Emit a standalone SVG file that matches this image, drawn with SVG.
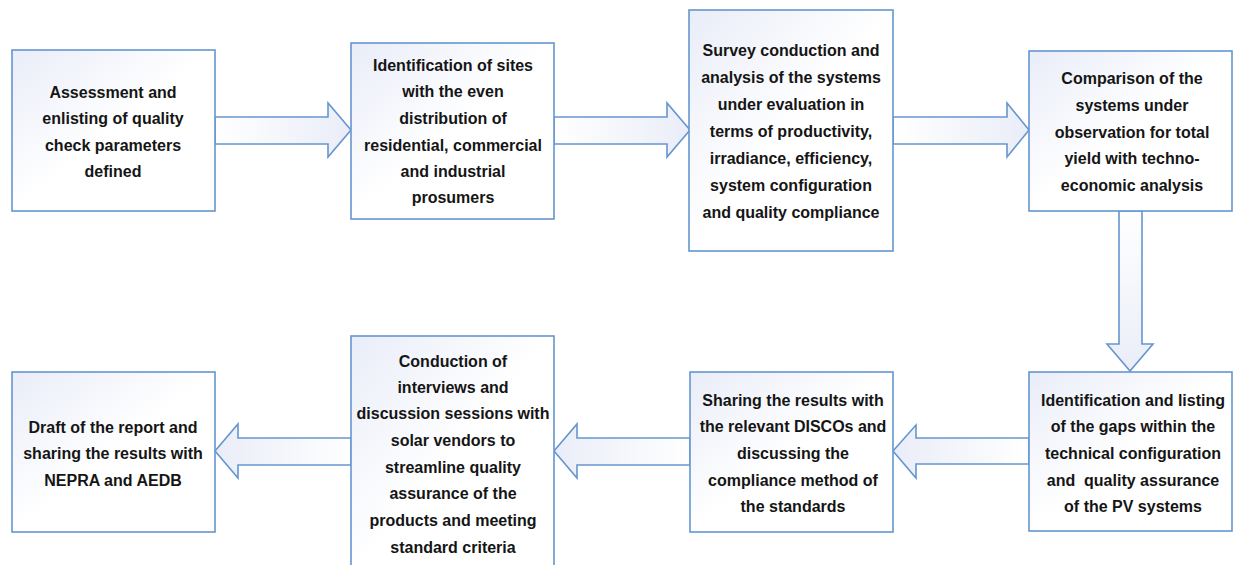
<svg xmlns="http://www.w3.org/2000/svg" width="1235" height="565" viewBox="0 0 1235 565">
  <style>
    .box { fill: url(#boxFill); stroke: #6596cf; stroke-width: 1.6; }
    .arrow { stroke: #6596cf; stroke-width: 1.6; stroke-linejoin: miter; }
    .label { font-family: "Liberation Sans", Arial, sans-serif; font-weight: bold; font-size: 16px; fill: #151515; text-anchor: middle; }
  </style>
  <defs>
    <linearGradient id="boxFill" x1="0" y1="0" x2="1" y2="1">
      <stop offset="0" stop-color="#e9edf8"/>
      <stop offset="0.5" stop-color="#ffffff"/>
      <stop offset="1" stop-color="#ffffff"/>
    </linearGradient>
    <linearGradient id="arrowRight" x1="0" y1="0" x2="1" y2="0">
      <stop offset="0" stop-color="#ffffff"/>
      <stop offset="1" stop-color="#eaedf8"/>
    </linearGradient>
    <linearGradient id="arrowLeft" x1="1" y1="0" x2="0" y2="0">
      <stop offset="0" stop-color="#ffffff"/>
      <stop offset="1" stop-color="#eaedf8"/>
    </linearGradient>
    <linearGradient id="arrowDown" x1="0" y1="0" x2="0" y2="1">
      <stop offset="0" stop-color="#ffffff"/>
      <stop offset="1" stop-color="#eaedf8"/>
    </linearGradient>
  </defs>

  <!-- block arrows between the steps -->
  <g id="connectors">
    <polygon class="arrow" fill="url(#arrowRight)" points="215,117 328,117 328,103 351,130 328,157 328,144 215,144"/>
    <polygon class="arrow" fill="url(#arrowRight)" points="554,117 667,117 667,103 690,130 667,157 667,144 554,144"/>
    <polygon class="arrow" fill="url(#arrowRight)" points="893,117 1007,117 1007,103 1029,130 1007,157 1007,144 893,144"/>
    <polygon class="arrow" fill="url(#arrowDown)" points="1119,211 1119,344 1107,344 1130,371 1153,344 1142,344 1142,211"/>
    <polygon class="arrow" fill="url(#arrowLeft)" points="1029,438 916,438 916,425 893,451 916,478 916,464 1029,464"/>
    <polygon class="arrow" fill="url(#arrowLeft)" points="690,438 577,438 577,424 554,451 577,478 577,465 690,465"/>
    <polygon class="arrow" fill="url(#arrowLeft)" points="351,438 238,438 238,424 215,451 238,478 238,465 351,465"/>
  </g>

  <g id="step1">
    <rect class="box" x="12" y="50" width="203" height="161"/>
    <text class="label" x="113" y="98">Assessment and</text>
    <text class="label" x="113" y="124">enlisting of quality</text>
    <text class="label" x="113" y="151">check parameters</text>
    <text class="label" x="113" y="177">defined</text>
  </g>

  <g id="step2">
    <rect class="box" x="351" y="43" width="203" height="176"/>
    <text class="label" x="453" y="71">Identification of sites</text>
    <text class="label" x="453" y="97">with the even</text>
    <text class="label" x="453" y="124">distribution of</text>
    <text class="label" x="453" y="151">residential, commercial</text>
    <text class="label" x="453" y="177">and industrial</text>
    <text class="label" x="453" y="203">prosumers</text>
  </g>

  <g id="step3">
    <rect class="box" x="689" y="10" width="204" height="241"/>
    <text class="label" x="791" y="56">Survey conduction and</text>
    <text class="label" x="791" y="83">analysis of the systems</text>
    <text class="label" x="791" y="110">under evaluation in</text>
    <text class="label" x="791" y="137">terms of productivity,</text>
    <text class="label" x="791" y="164">irradiance, efficiency,</text>
    <text class="label" x="791" y="191">system configuration</text>
    <text class="label" x="791" y="218">and quality compliance</text>
  </g>

  <g id="step4">
    <rect class="box" x="1029" y="51" width="203" height="160"/>
    <text class="label" x="1132" y="84">Comparison of the</text>
    <text class="label" x="1132" y="111">systems under</text>
    <text class="label" x="1132" y="138">observation for total</text>
    <text class="label" x="1132" y="164">yield with techno-</text>
    <text class="label" x="1132" y="191">economic analysis</text>
  </g>

  <g id="step5">
    <rect class="box" x="1029" y="372" width="203" height="159"/>
    <text class="label" x="1133" y="406">Identification and listing</text>
    <text class="label" x="1133" y="432">of the gaps within the</text>
    <text class="label" x="1133" y="459">technical configuration</text>
    <text class="label" x="1133" y="486" xml:space="preserve">and  quality assurance</text>
    <text class="label" x="1133" y="512">of the PV systems</text>
  </g>

  <g id="step6">
    <rect class="box" x="690" y="372" width="203" height="160"/>
    <text class="label" x="793" y="406">Sharing the results with</text>
    <text class="label" x="793" y="432">the relevant DISCOs and</text>
    <text class="label" x="793" y="459">discussing the</text>
    <text class="label" x="793" y="486">compliance method of</text>
    <text class="label" x="793" y="512">the standards</text>
  </g>

  <g id="step7">
    <rect class="box" x="351" y="336" width="203" height="240"/>
    <text class="label" x="453" y="367">Conduction of</text>
    <text class="label" x="453" y="393">interviews and</text>
    <text class="label" x="453" y="419">discussion sessions with</text>
    <text class="label" x="453" y="446">solar vendors to</text>
    <text class="label" x="453" y="473">streamline quality</text>
    <text class="label" x="453" y="499">assurance of the</text>
    <text class="label" x="453" y="526">products and meeting</text>
    <text class="label" x="453" y="553">standard criteria</text>
  </g>

  <g id="step8">
    <rect class="box" x="12" y="372" width="203" height="160"/>
    <text class="label" x="113" y="433">Draft of the report and</text>
    <text class="label" x="113" y="459">sharing the results with</text>
    <text class="label" x="113" y="486">NEPRA and AEDB</text>
  </g>
</svg>
